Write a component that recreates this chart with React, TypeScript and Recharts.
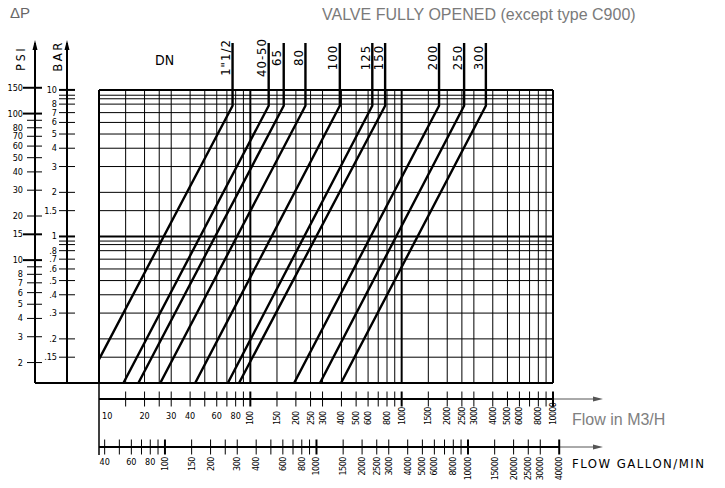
import React from 'react';
import { ComposedChart, Line, XAxis, YAxis, ReferenceLine } from 'recharts';

const CAD_FONT = "'DejaVu Sans Condensed', 'DejaVu Sans', sans-serif";
const GRAY_FONT = "'Liberation Sans', Arial, sans-serif";

// frame + axis sizes (px)
const WIDTH = 725;
const HEIGHT = 488;
const MARGIN = { top: 43, right: 172, bottom: 0, left: 0 };
const PSI_AXIS_W = 35;
const BAR_AXIS_W = 32;
const GAP_W = 32;
const SPACER_H = 16;
const M3H_AXIS_H = 48;
const GPM_AXIS_H = 41;

const PLOT_LEFT = PSI_AXIS_W + BAR_AXIS_W + GAP_W;
const PLOT_RIGHT = WIDTH - MARGIN.right;
const PLOT_BOTTOM = HEIGHT - SPACER_H - M3H_AXIS_H - GPM_AXIS_H;
const M3H_Y = PLOT_BOTTOM + SPACER_H;
const GPM_Y = M3H_Y + M3H_AXIS_H;

// scales
const FLOW_DOMAIN = [10, 10000]; // m3/h
const BAR_DOMAIN = [0.1, 20.9]; // top part holds the DN risers
const BAR_PER_PSI = 0.0689476;
const PSI_DOMAIN = [BAR_DOMAIN[0] / BAR_PER_PSI, BAR_DOMAIN[1] / BAR_PER_PSI];
const GPM_DOMAIN = [36.7, 36400];

// grid / ticks
const BAR_GRID = [10, 9.2, 8.7, 8, 7, 6, 5, 4, 3, 2, 1.5, 1, 0.93, 0.88, 0.8, 0.7, 0.6, 0.5, 0.4, 0.3, 0.2, 0.15];
const BAR_LABELS = [10, 8, 7, 6, 5, 4, 3, 2, 1.5, 1, 0.8, 0.7, 0.6, 0.5, 0.4, 0.3, 0.2, 0.15];
const BAR_HEAVY = [10, 1];

const FLOW_GRID = [10, 15, 20, 25, 30, 40, 50, 60, 70, 80, 90, 100, 150, 200, 250, 300, 400, 500, 600, 700, 800, 900, 1000, 1500, 2000, 2500, 3000, 4000, 5000, 6000, 7000, 8000, 9000, 10000];
const FLOW_LABELS = [10, 20, 30, 40, 60, 80, 100, 150, 200, 250, 300, 400, 500, 600, 800, 1000, 1500, 2000, 2500, 3000, 4000, 5000, 6000, 8000, 10000];
const FLOW_HEAVY = [10, 100, 1000, 10000];

const PSI_TICKS = [150, 100, 90, 80, 70, 60, 50, 40, 30, 20, 15, 10, 9, 8, 7, 6, 5, 4, 3, 2];
const PSI_LABELS = [150, 100, 80, 70, 60, 50, 40, 30, 20, 15, 10, 8, 7, 6, 5, 4, 3, 2];
const PSI_HEAVY = [150, 100, 15, 10];

const GPM_TICKS = [40, 50, 60, 70, 80, 90, 100, 150, 200, 250, 300, 400, 500, 600, 700, 800, 900, 1000, 1500, 2000, 2500, 3000, 4000, 5000, 6000, 7000, 8000, 9000, 10000, 15000, 20000, 25000, 30000, 40000];
const GPM_LABELS = [40, 60, 80, 100, 150, 200, 300, 400, 600, 800, 1000, 1500, 2000, 2500, 3000, 4000, 5000, 6000, 8000, 10000, 15000, 20000, 25000, 30000, 40000];
const GPM_HEAVY = [100, 1000, 10000, 40000];

// DN curves: start point, then riser flow (vertical part)
const DN_NAMES = ['1"1/2', '40-50', '65', '80', '100', '125', '150', '200', '250', '300'];
const DN_FLOW_START = [10, 14.5, 18.2, 25.4, 43.2, 71, 84.2, 194.7, 288.6, 397.5];
const DN_DROP_START = [0.145, 0.1, 0.1, 0.1, 0.1, 0.1, 0.1, 0.1, 0.1, 0.1];
const DN_FLOW_RISER = [76.3, 132.2, 166.2, 231.3, 390.3, 639.7, 777.5, 1766, 2586, 3601];
const RISER_DROP = 7.8;

const dnData = DN_NAMES.map((_, i) => [
  { q: DN_FLOW_START[i], p: DN_DROP_START[i] },
  { q: DN_FLOW_RISER[i], p: RISER_DROP },
  { q: DN_FLOW_RISER[i], p: BAR_DOMAIN[1] },
]);

const fmtBar = (v: number) => (v < 1 ? String(v).slice(1) : String(v));

const BarTick = ({ x, y, payload }: any) => {
  const v = payload.value;
  return (
    <g>
      <line x1={x - 8} x2={x + 8} y1={y} y2={y} stroke="#000" strokeWidth={BAR_HEAVY.includes(v) ? 2 : 1} />
      {BAR_LABELS.includes(v) && (
        <text x={x - 10} y={y} textAnchor="end" dominantBaseline="central" fontSize={9} fontFamily={CAD_FONT} fill="#000">
          {fmtBar(v)}
        </text>
      )}
    </g>
  );
};

const PsiTick = ({ x, y, payload }: any) => {
  const v = payload.value;
  const heavy = PSI_HEAVY.includes(v);
  return (
    <g>
      <line x1={x - (heavy ? 12 : 8)} x2={x + 7} y1={y} y2={y} stroke="#000" strokeWidth={heavy ? 2 : 1} />
      {PSI_LABELS.includes(v) && (
        <text x={x - 12} y={y} textAnchor="end" dominantBaseline="central" fontSize={9} fontFamily={CAD_FONT} fill="#000">
          {v}
        </text>
      )}
    </g>
  );
};

const M3hTick = ({ x, y, payload }: any) => {
  const v = payload.value;
  const first = v === FLOW_DOMAIN[0];
  let label = null;
  if (FLOW_LABELS.includes(v)) {
    label =
      v < 100 ? (
        <text x={first ? x + 3 : x} y={y + 17} textAnchor={first ? 'start' : 'middle'} dominantBaseline="central" fontSize={9} fontFamily={CAD_FONT} fill="#000">
          {v}
        </text>
      ) : (
        <text x={x} y={y + 26} transform={`rotate(-90 ${x} ${y + 26})`} textAnchor="start" dominantBaseline="central" fontSize={9} fontFamily={CAD_FONT} fill="#000" letterSpacing={-0.7}>
          {v}
        </text>
      );
  }
  return (
    <g>
      {!first && <line x1={x} x2={x} y1={y - 7.5} y2={y + 7.5} stroke="#000" strokeWidth={FLOW_HEAVY.includes(v) ? 2 : 1} />}
      {label}
    </g>
  );
};

const GpmTick = ({ x, y, payload }: any) => {
  const v = payload.value;
  let label = null;
  if (GPM_LABELS.includes(v)) {
    label =
      v < 100 ? (
        <text x={x} y={y + 15} textAnchor="middle" dominantBaseline="central" fontSize={9} fontFamily={CAD_FONT} fill="#000">
          {v}
        </text>
      ) : (
        <text x={x} y={y + 10} transform={`rotate(-90 ${x} ${y + 10})`} textAnchor="end" dominantBaseline="central" fontSize={9} fontFamily={CAD_FONT} fill="#000" letterSpacing={-0.5}>
          {v}
        </text>
      );
  }
  return (
    <g>
      <line x1={x} x2={x} y1={y - 7.5} y2={y + 7.5} stroke="#000" strokeWidth={GPM_HEAVY.includes(v) ? 2 : 1} />
      {label}
    </g>
  );
};

const dnLabel = (name: string) => (props: any) => {
  if (props.index !== 2) return null;
  const x = (props.x ?? props.viewBox?.x) - 7;
  const y = (props.y ?? props.viewBox?.y) + 14.5;
  return (
    <text x={x} y={y} transform={`rotate(-90 ${x} ${y})`} textAnchor="middle" dominantBaseline="central" fontSize={13} fontFamily={CAD_FONT} fill="#000" letterSpacing={1}>
      {name}
    </text>
  );
};

const upArrow = (x: number, tip: number) => `M${x},${tip} L${x - 2.5},${tip + 10} L${x + 2.5},${tip + 10} Z`;
const rightArrow = (tip: number, y: number) => `M${tip},${y} L${tip - 10},${y - 2.5} L${tip - 10},${y + 2.5} Z`;

export default function App() {
  return (
    <div style={{ position: 'absolute', left: 0, top: 0, width: WIDTH, height: HEIGHT, background: '#fff' }}>
      <ComposedChart width={WIDTH} height={HEIGHT} margin={MARGIN}>
        {/* axes: ids sort from the plot outward */}
        <XAxis xAxisId="axFlow" dataKey="q" type="number" scale="log" domain={FLOW_DOMAIN} allowDataOverflow height={SPACER_H} axisLine={false} tickLine={false} tick={false} />
        <XAxis
          xAxisId="axM3h"
          dataKey="q"
          type="number"
          scale="log"
          domain={FLOW_DOMAIN}
          allowDataOverflow
          ticks={FLOW_GRID}
          interval={0}
          height={M3H_AXIS_H}
          tickSize={0}
          tickMargin={0}
          tickLine={false}
          axisLine={{ stroke: '#000', strokeWidth: 2 }}
          tick={<M3hTick />}
        />
        <XAxis
          xAxisId="axUsGpm"
          dataKey="gpm"
          type="number"
          scale="log"
          domain={GPM_DOMAIN}
          allowDataOverflow
          ticks={GPM_TICKS}
          interval={0}
          height={GPM_AXIS_H}
          tickSize={0}
          tickMargin={0}
          tickLine={false}
          axisLine={{ stroke: '#000', strokeWidth: 2 }}
          tick={<GpmTick />}
        />
        <YAxis yAxisId="bar" type="number" scale="log" domain={BAR_DOMAIN} allowDataOverflow width={GAP_W} axisLine={false} tickLine={false} tick={false} />
        <YAxis
          yAxisId="barScale"
          type="number"
          scale="log"
          domain={BAR_DOMAIN}
          allowDataOverflow
          ticks={BAR_GRID}
          interval={0}
          width={BAR_AXIS_W}
          tickSize={0}
          tickMargin={0}
          tickLine={false}
          axisLine={{ stroke: '#000', strokeWidth: 2 }}
          tick={<BarTick />}
        />
        <YAxis
          yAxisId="psi"
          type="number"
          scale="log"
          domain={PSI_DOMAIN}
          allowDataOverflow
          ticks={PSI_TICKS}
          interval={0}
          width={PSI_AXIS_W}
          tickSize={0}
          tickMargin={0}
          tickLine={false}
          axisLine={{ stroke: '#000', strokeWidth: 2 }}
          tick={<PsiTick />}
        />

        {/* grid */}
        {BAR_GRID.map((v) => (
          <ReferenceLine
            key={`h${v}`}
            xAxisId="axFlow"
            yAxisId="bar"
            ifOverflow="visible"
            segment={[{ x: FLOW_DOMAIN[0], y: v }, { x: FLOW_DOMAIN[1], y: v }]}
            stroke="#000"
            strokeWidth={BAR_HEAVY.includes(v) ? 2 : 1}
          />
        ))}
        {FLOW_GRID.map((v) => (
          <ReferenceLine
            key={`v${v}`}
            xAxisId="axFlow"
            yAxisId="bar"
            ifOverflow="visible"
            segment={[{ x: v, y: BAR_DOMAIN[0] }, { x: v, y: BAR_GRID[0] }]}
            stroke="#000"
            strokeWidth={FLOW_HEAVY.includes(v) ? 2 : 1}
          />
        ))}

        {DN_NAMES.map((name, i) => (
          <Line
            key={name}
            xAxisId="axFlow"
            yAxisId="bar"
            data={dnData[i]}
            dataKey="p"
            type="linear"
            stroke="#000"
            strokeWidth={2.4}
            dot={false}
            activeDot={false}
            isAnimationActive={false}
            label={dnLabel(name)}
          />
        ))}

        {/* frame pieces outside the plot */}
        <line x1={PSI_AXIS_W} x2={PLOT_RIGHT} y1={PLOT_BOTTOM} y2={PLOT_BOTTOM} stroke="#000" strokeWidth={2} />
        <line x1={PLOT_LEFT} x2={PLOT_LEFT} y1={PLOT_BOTTOM} y2={GPM_Y + 8} stroke="#000" strokeWidth={1.5} />
        <path d={upArrow(PSI_AXIS_W, MARGIN.top - 3)} fill="#000" />
        <path d={upArrow(PSI_AXIS_W + BAR_AXIS_W, MARGIN.top - 3)} fill="#000" />
        <line x1={PLOT_RIGHT} x2={PLOT_RIGHT + 45} y1={M3H_Y} y2={M3H_Y} stroke="#555" strokeWidth={1} />
        <path d={rightArrow(PLOT_RIGHT + 50, M3H_Y)} fill="#555" />
        <line x1={PLOT_RIGHT} x2={PLOT_RIGHT + 7} y1={GPM_Y} y2={GPM_Y} stroke="#000" strokeWidth={2} />
        <line x1={PLOT_RIGHT + 7} x2={PLOT_RIGHT + 45} y1={GPM_Y} y2={GPM_Y} stroke="#555" strokeWidth={1} />
        <path d={rightArrow(PLOT_RIGHT + 50, GPM_Y)} fill="#555" />

        {/* texts */}
        <text x={10} y={18} fontSize={15} fontFamily={GRAY_FONT} fill="#666">ΔP</text>
        <text x={322} y={20} fontSize={16} fontFamily={GRAY_FONT} fill="#7a7a7a">VALVE FULLY OPENED (except type C900)</text>
        <text x={21} y={58} transform="rotate(-90 21 58)" textAnchor="middle" dominantBaseline="central" fontSize={12} fontFamily={CAD_FONT} letterSpacing={3} fill="#000">PSI</text>
        <text x={57} y={56} transform="rotate(-90 57 56)" textAnchor="middle" dominantBaseline="central" fontSize={13} fontFamily={CAD_FONT} letterSpacing={2.5} fill="#000">BAR</text>
        <text x={155} y={65} fontSize={14} fontFamily={CAD_FONT} fill="#000">DN</text>
        <text x={572} y={425} fontSize={16} fontFamily={GRAY_FONT} fill="#808080">Flow in M3/H</text>
        <text x={572} y={468} fontSize={13} fontFamily={CAD_FONT} letterSpacing={1.5} fill="#000">FLOW GALLON/MIN</text>
      </ComposedChart>
    </div>
  );
}
